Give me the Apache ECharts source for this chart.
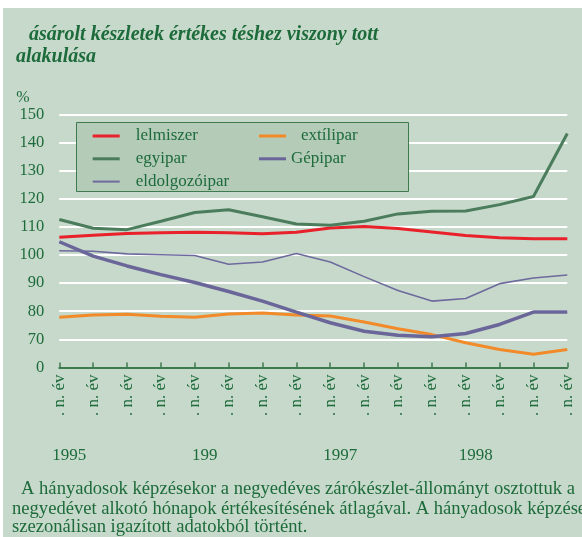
<!DOCTYPE html>
<html>
<head>
<meta charset="utf-8">
<script src="https://cdn.jsdelivr.net/npm/echarts@6/dist/echarts.min.js"></script>
<style>
html,body{margin:0;padding:0;background:#ffffff;}
#bg{position:absolute;left:3px;top:8px;width:579px;height:529px;background:#c6d9ca;}
#chart{position:absolute;left:0;top:0;width:582px;height:537px;}
</style>
</head>
<body>
<div id="bg"></div>
<div id="chart"></div>
<script>
// Categories (quarters 1995 Q1 .. 1998 Q4) and tick labels
const quarterLabels = ['. n. év','. n. év','. n. év','. n. év','. n. év','. n. év','. n. év','. n. év',
                       '. n. év','. n. év','. n. év','. n. év','. n. év','. n. év','. n. év','. n. év'];
const yearLabels = ['1995','','','','199','','','','1997','','','','1998','','',''];
const yTickLabels = {60:'0',70:'70',80:'80',90:'90',100:'100',110:'110',120:'120',130:'130',140:'140',150:'150'};

// Series values (%)
const elelmiszer   = [106.3,107.0,107.6,107.9,108.1,107.9,107.5,108.1,109.6,110.1,109.4,108.2,106.9,106.1,105.8,105.8];
const textilipar   = [77.9,78.7,78.9,78.2,77.9,79.0,79.4,78.7,78.3,76.2,73.8,71.7,68.8,66.4,64.7,66.4];
const vegyipar     = [112.6,109.5,109.0,112.0,115.1,116.1,113.6,111.0,110.6,112.0,114.6,115.5,115.6,117.9,120.8,143.2];
const gepipar      = [104.7,99.6,96.1,93.0,90.2,87.0,83.6,79.7,75.9,72.9,71.5,70.9,72.1,75.3,79.7,79.7];
const feldolgozo   = [101.5,101.3,100.4,100.1,99.8,96.7,97.5,100.5,97.5,92.3,87.4,83.6,84.5,89.8,91.8,92.9];

const names = ['lelmiszer','extílipar','egyipar','Gépipar','eldolgozóipar'];
const footnote = [
  'A hányadosok képzésekor a negyedéves zárókészlet-állományt osztottuk a',
  'negyedévet alkotó hónapok értékesítésének átlagával. A hányadosok képzése',
  'szezonálisan igazított adatokból történt.'
];

const SERIF = "'Liberation Serif','Times New Roman',serif";
const TXT = '#1d6b3b';

const chart = echarts.init(document.getElementById('chart'), null, {renderer:'canvas'});

function mkSeries(name, data, color, width, z){
  return {name:name, type:'line', data:data, symbol:'none', showSymbol:false, smooth:false,
          lineStyle:{color:color, width:width}, itemStyle:{color:color}, z:z, animation:false};
}

const legendText = {fontFamily:SERIF, fontSize:17, color:TXT, lineHeight:18};
const footStyle = {fontFamily:SERIF, fontSize:18.6, fontWeight:'normal', color:TXT};
const titleStyle = {fontFamily:SERIF, fontSize:20, fontStyle:'italic', fontWeight:'bold', color:TXT};

chart.setOption({
  animation:false,
  title:[
    {text:'ásárolt készletek értékes téshez viszony tott', left:29, top:25, padding:0, textStyle:titleStyle},
    {text:'alakulása', left:16, top:47, padding:0, textStyle:titleStyle},
    {text:footnote[0], left:21, top:480, padding:0, textStyle:footStyle},
    {text:footnote[1], left:12, top:499.5, padding:0, textStyle:footStyle},
    {text:footnote[2], left:12, top:518, padding:0, textStyle:footStyle}
  ],
  grid:{left:59.3, right:14.7, top:114.3, bottom:169.5, containLabel:false},
  graphic:[
    {type:'rect', shape:{x:76.5, y:122.5, width:332, height:69},
     style:{fill:'#b4cbb8', stroke:'#3d7a4e', lineWidth:1}, z:3, silent:true}
  ],
  legend:[
    {data:[names[0],names[2]], orient:'vertical', left:92.7, top:127, padding:0,
     icon:'rect', itemWidth:27, itemHeight:3, itemGap:4.8, z:5,
     textStyle:Object.assign({padding:[0,0,0,11]}, legendText)},
    {data:[names[4]], orient:'vertical', left:92.7, top:172.6, padding:0,
     icon:'rect', itemWidth:27, itemHeight:2, z:5,
     textStyle:Object.assign({padding:[0,0,0,11]}, legendText)},
    {data:[names[1]], orient:'vertical', left:259, top:127, padding:0,
     icon:'rect', itemWidth:27, itemHeight:3, z:5,
     textStyle:Object.assign({padding:[0,0,0,10]}, legendText)},
    {data:[names[3]], orient:'vertical', left:259, top:149.8, padding:0,
     icon:'rect', itemWidth:27, itemHeight:3, z:5,
     textStyle:Object.assign({padding:[0,0,0,0]}, legendText)}
  ],
  xAxis:[
    {type:'category', data:quarterLabels, boundaryGap:false, position:'bottom',
     axisLine:{show:true, lineStyle:{color:'#3d7a4e', width:2}},
     axisTick:{show:true, inside:true, length:5, interval:0, lineStyle:{color:'#3d7a4e', width:1.5}},
     axisLabel:{interval:0, rotate:90, margin:7, fontFamily:SERIF, fontSize:17, color:TXT},
     splitLine:{show:false}, z:6},
    {type:'category', data:quarterLabels, boundaryGap:false, position:'bottom', offset:72,
     axisLine:{show:false}, axisTick:{show:false},
     axisLabel:{interval:0, margin:8, fontFamily:SERIF, fontSize:17, color:TXT, align:'center',
                padding:[0,0,0,20],
                formatter:function(v, i){ return yearLabels[i]; }},
     splitLine:{show:false}}
  ],
  yAxis:{type:'value', min:60, max:150, interval:10,
    name:'%', nameLocation:'end', nameGap:6,
    nameTextStyle:{fontFamily:SERIF, fontSize:16, color:TXT, align:'center', padding:[0,73,0,0]},
    axisLine:{show:false}, axisTick:{show:false},
    axisLabel:{margin:15, fontFamily:SERIF, fontSize:16.5, color:TXT,
               formatter:function(v){ return yTickLabels[v]; }},
    splitLine:{show:true, lineStyle:{color:'#ffffff', width:2}}},
  series:[
    mkSeries(names[0], elelmiszer, '#e8212b', 3, 2),
    mkSeries(names[1], textilipar, '#f28a2a', 3, 2),
    mkSeries(names[2], vegyipar, '#4b7d5c', 3, 2),
    mkSeries(names[3], gepipar, '#6a6699', 3.5, 2),
    mkSeries(names[4], feldolgozo, '#6e6a9e', 1.6, 2)
  ]
});
</script>
</body>
</html>
